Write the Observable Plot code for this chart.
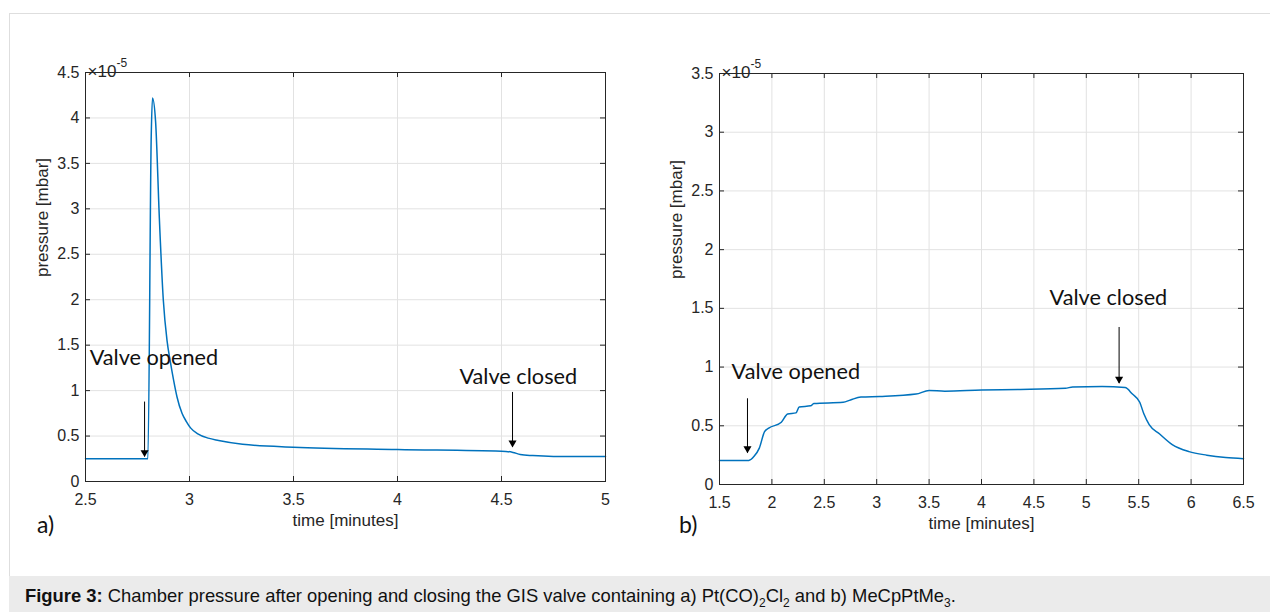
<!DOCTYPE html>
<html><head><meta charset="utf-8">
<script src="https://cdn.jsdelivr.net/npm/d3@7"></script>
<script src="https://cdn.jsdelivr.net/npm/@observablehq/plot@0.6"></script>
<style>
body{margin:0;background:#fff;}
#fig{position:relative;width:1270px;height:612px;overflow:hidden;font-family:"Liberation Sans",Arial,sans-serif;background:#fff;}
#border{position:absolute;left:9px;top:13px;width:1300px;height:640px;border-left:1px solid #dedede;border-top:1px solid #dedede;}
#caption{position:absolute;left:9px;top:576px;width:1261px;height:36px;background:#ebebeb;font-size:18.4px;line-height:36px;color:#111;white-space:nowrap;}
#caption span.t{position:absolute;left:16px;top:2px;}
.panel{position:absolute;top:0;}
.plab{position:absolute;font-family:Lato,"Open Sans",sans-serif;font-size:23px;line-height:23px;color:#111;}
</style></head>
<body>
<div id="fig">
  <div id="border"></div>
  <div id="pa" class="panel" style="left:0px"></div>
  <div id="pb" class="panel" style="left:634px"></div>
  <div class="plab" style="left:37px;top:513px">a)</div>
  <div class="plab" style="left:679px;top:513px">b)</div>
  <div id="caption"><span class="t"><b>Figure 3:</b> Chamber pressure after opening and closing the GIS valve containing a) Pt(CO)<sub style="font-size:12px">2</sub>Cl<sub style="font-size:12px">2</sub> and b) MeCpPtMe<sub style="font-size:12px">3</sub>.</span></div>
</div>
<script>
// Panel a) Pt(CO)2Cl2 — pressure in units of 1e-5 mbar
const timeA = [2.5, 2.79, 2.80, 2.816, 2.822, 2.837, 2.855, 2.874, 2.892, 2.907, 2.924, 2.94, 2.964, 2.985, 3.005, 3.04, 3.09, 3.14, 3.255, 3.5, 4.0, 4.5, 4.555, 4.59, 4.65, 4.75, 5.0];
const pressureA = [0.25, 0.25, 0.25, 3.8, 4.22, 3.96, 2.9, 2.0, 1.55, 1.33, 1.11, 0.93, 0.75, 0.66, 0.59, 0.525, 0.477, 0.452, 0.41, 0.378, 0.353, 0.334, 0.32, 0.298, 0.285, 0.276, 0.276];
const xTicksA = [2.5, 3, 3.5, 4, 4.5, 5];
const yTicksA = [0, 0.5, 1, 1.5, 2, 2.5, 3, 3.5, 4, 4.5];
const notesA = [{x: 2.52, y: 1.36, text: "Valve opened"}, {x: 4.298, y: 1.147, text: "Valve closed"}];
const arrowsA = [{x: 2.784, yTop: 0.874, yTip: 0.27}, {x: 4.553, yTop: 0.98, yTip: 0.375}];

// Panel b) MeCpPtMe3 — pressure in units of 1e-5 mbar
const timeB = [1.5, 1.78, 1.83, 1.88, 1.93, 1.97, 2.09, 2.15, 2.23, 2.26, 2.37, 2.40, 2.68, 2.75, 2.85, 3.03, 3.375, 3.50, 3.65, 4.0, 4.35, 4.80, 4.87, 5.15, 5.37, 5.44, 5.51, 5.55, 5.60, 5.70, 5.82, 5.98, 6.15, 6.33, 6.5];
const pressureB = [0.205, 0.205, 0.24, 0.31, 0.45, 0.48, 0.53, 0.60, 0.61, 0.66, 0.67, 0.69, 0.70, 0.72, 0.745, 0.75, 0.77, 0.80, 0.795, 0.805, 0.81, 0.82, 0.83, 0.835, 0.825, 0.77, 0.70, 0.60, 0.51, 0.43, 0.34, 0.28, 0.25, 0.23, 0.22];
const xTicksB = [1.5, 2, 2.5, 3, 3.5, 4, 4.5, 5, 5.5, 6, 6.5];
const yTicksB = [0, 0.5, 1, 1.5, 2, 2.5, 3, 3.5];
const notesB = [{x: 1.615, y: 0.955, text: "Valve opened"}, {x: 4.65, y: 1.585, text: "Valve closed"}];
const arrowsB = [{x: 1.767, yTop: 0.73, yTip: 0.267}, {x: 5.313, yTop: 1.337, yTip: 0.86}];

const xLabel = "time [minutes]";
const yLabel = "pressure [mbar]";
const exponentBase = "×10";
const exponent = "-5";

const axisColor = "#262626";
const gridColor = "#e2e2e2";
const lineColor = "#0072BD";
const fmt = d3.format("~g");

function panel({times, values, xTicks, yTicks, notes, arrows, width, ml, mr, mt, mb}) {
  const H = 560;
  const xDomain = [xTicks[0], xTicks[xTicks.length - 1]];
  const yDomain = [yTicks[0], yTicks[yTicks.length - 1]];
  const innerH = H - mt - mb, innerW = width - ml - mr;
  const tyLen = 5 * (yDomain[1] - yDomain[0]) / innerH;
  const txLen = 5 * (xDomain[1] - xDomain[0]) / innerW;
  const data = times.map((t, i) => ({t, p: values[i]}));
  return Plot.plot({
    width, height: H,
    marginLeft: ml, marginRight: mr, marginTop: mt, marginBottom: mb,
    style: {fontFamily: "'Liberation Sans', Arial, sans-serif", fontSize: "16px", color: axisColor, background: "transparent", overflow: "visible"},
    x: {domain: xDomain},
    y: {domain: yDomain},
    marks: [
      Plot.gridX({ticks: xTicks, stroke: gridColor, strokeOpacity: 1}),
      Plot.gridY({ticks: yTicks, stroke: gridColor, strokeOpacity: 1}),
      Plot.axisX({ticks: xTicks, tickSize: 0, tickPadding: 12, tickFormat: fmt, label: null, fill: axisColor, fontSize: 16}),
      Plot.axisY({ticks: yTicks, tickSize: 0, tickPadding: 6, tickFormat: fmt, label: null, fill: axisColor, fontSize: 16}),
      Plot.ruleX(xTicks, {y1: yDomain[0], y2: yDomain[0] + tyLen, stroke: axisColor}),
      Plot.ruleX(xTicks, {y1: yDomain[1], y2: yDomain[1] - tyLen, stroke: axisColor}),
      Plot.ruleY(yTicks, {x1: xDomain[0], x2: xDomain[0] + txLen, stroke: axisColor}),
      Plot.ruleY(yTicks, {x1: xDomain[1], x2: xDomain[1] - txLen, stroke: axisColor}),
      Plot.line(data, {x: "t", y: "p", stroke: lineColor, strokeWidth: 1.5, curve: "monotone-x"}),
      Plot.ruleX(arrows, {x: "x", y1: "yTop", y2: "yTip", stroke: "#000", strokeWidth: 1}),
      Plot.dot(arrows, {x: "x", y: "yTip", symbol: "triangle", rotate: 180, r: 3, fill: "#000", stroke: null, dy: -4.5}),
      Plot.text(notes, {x: "x", y: "y", text: "text", textAnchor: "start", fontFamily: "Lato, 'Open Sans', sans-serif", fontSize: 21.7, fill: "#111"}),
      Plot.text([xLabel], {frameAnchor: "bottom", dy: 44, fontSize: 17, fill: axisColor}),
      Plot.text([yLabel], {frameAnchor: "left", dx: -43, rotate: -90, fontSize: 17, fill: axisColor}),
      Plot.text([exponentBase], {frameAnchor: "top-left", dx: 2, dy: -7.5, textAnchor: "start", fontSize: 17, fill: axisColor}),
      Plot.text([exponent], {frameAnchor: "top-left", dx: 31, dy: -14.5, textAnchor: "start", fontSize: 12, fill: axisColor}),
      Plot.frame({stroke: axisColor})
    ]
  });
}

document.getElementById("pa").append(panel({times: timeA, values: pressureA, xTicks: xTicksA, yTicks: yTicksA, notes: notesA, arrows: arrowsA, width: 640, ml: 85, mr: 35, mt: 72, mb: 79}));
document.getElementById("pb").append(panel({times: timeB, values: pressureB, xTicks: xTicksB, yTicks: yTicksB, notes: notesB, arrows: arrowsB, width: 636, ml: 85, mr: 27, mt: 73, mb: 76}));
</script>
</body></html>
